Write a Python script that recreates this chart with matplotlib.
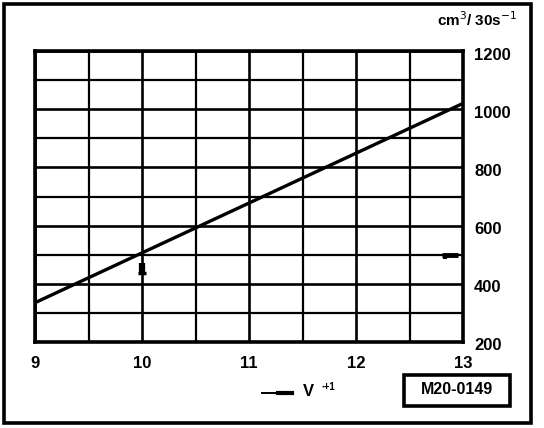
import matplotlib
matplotlib.use("Agg")
import matplotlib.pyplot as plt
from matplotlib.patches import Rectangle
from matplotlib.ticker import MultipleLocator
from matplotlib.transforms import ScaledTranslation

# Data
x_vals = [9, 13]
y_vals = [335, 1020]
x_ticks = [9, 10, 11, 12, 13]
y_ticks = [200, 400, 600, 800, 1000, 1200]
marker1 = (10, 472, 432)      # x, y_top, y_bottom
marker2 = (12.8, 12.95, 500)  # x_start, x_end, y
unit_label = "cm$^3$/ 30s$^{-1}$"
legend_label = "V"
legend_sup = "\u2219+1"
code_label = "M20-0149"

W, H = 544, 428
fig = plt.figure(figsize=(W / 100, H / 100), dpi=100)
plt.rcParams['font.family'] = ['Liberation Sans', 'DejaVu Sans']

# Outer border
fig.patches.append(Rectangle((3.5 / W, 5 / H), 527.5 / W, 419.5 / H, transform=fig.transFigure,
                             fill=False, lw=2.6, ec='black'))

L, R, T, B = 35, 463, 51, 342
ax = fig.add_axes([L / W, (H - B) / H, (R - L) / W, (B - T) / H])
ax.set_xlim(9, 13)
ax.set_ylim(200, 1200)

ax.xaxis.set_minor_locator(MultipleLocator(0.5))
ax.yaxis.set_minor_locator(MultipleLocator(100))
ax.set_xticks(x_ticks)
ax.set_yticks(y_ticks)
ax.set_xticklabels([str(v) for v in x_ticks], fontsize=12, fontweight='bold')
ax.set_yticklabels([str(v) for v in y_ticks], fontsize=12, fontweight='bold')
ax.yaxis.tick_right()
ax.tick_params(axis='both', which='both', length=0)
ax.tick_params(axis='x', pad=10)
ax.tick_params(axis='y', pad=8)
for lab in ax.get_yticklabels():
    lab.set_transform(lab.get_transform() + ScaledTranslation(0, -2.5 / 100, fig.dpi_scale_trans))

ax.grid(True, which='major', color='black', lw=1.9)
ax.grid(True, which='minor', color='black', lw=1.6)
ax.set_axisbelow(True)
for s in ax.spines.values():
    s.set_linewidth(2.6)

ax.plot(x_vals, y_vals, color='black', lw=2.4, solid_capstyle='butt', zorder=3)

# small markers
ax.plot([marker1[0], marker1[0]], [marker1[1], marker1[2]], color='black', lw=4.5,
        solid_capstyle='butt', zorder=3)
ax.plot([marker1[0] - 0.04, marker1[0] + 0.04], [marker1[2] + 4, marker1[2] + 4], color='black',
        lw=2.5, solid_capstyle='butt', zorder=3)
ax.plot([marker2[0], marker2[1]], [marker2[2], marker2[2]], color='black', lw=3.5,
        solid_capstyle='butt', zorder=3)
ax.plot([marker2[0] + 0.03, marker2[0] + 0.03], [marker2[2], marker2[2] - 14], color='black',
        lw=3, solid_capstyle='butt', zorder=3)

# unit label
fig.text(477 / W, 1 - 20 / H, unit_label, fontsize=11, fontweight='bold', ha='center', va='center')

# legend
fig.lines.append(plt.Line2D([262 / W, 281 / W], [1 - 393 / H, 1 - 393 / H], transform=fig.transFigure,
                            color='black', lw=1.4))
fig.lines.append(plt.Line2D([278 / W, 292 / W], [1 - 393 / H, 1 - 393 / H], transform=fig.transFigure,
                            color='black', lw=3))
fig.text(308 / W, 1 - 392 / H, legend_label, fontsize=12, fontweight='bold', ha='center', va='center')
fig.text(328 / W, 1 - 387 / H, legend_sup, fontsize=7, fontweight='bold', ha='center', va='center')

# code box
fig.patches.append(Rectangle((404 / W, 1 - 406 / H), 106 / W, 31 / H, transform=fig.transFigure,
                             fill=False, lw=2.6, ec='black'))
fig.text(457 / W, 1 - 390 / H, code_label, fontsize=11.5, fontweight='bold', ha='center', va='center')

fig.savefig("out.png", dpi=100)
